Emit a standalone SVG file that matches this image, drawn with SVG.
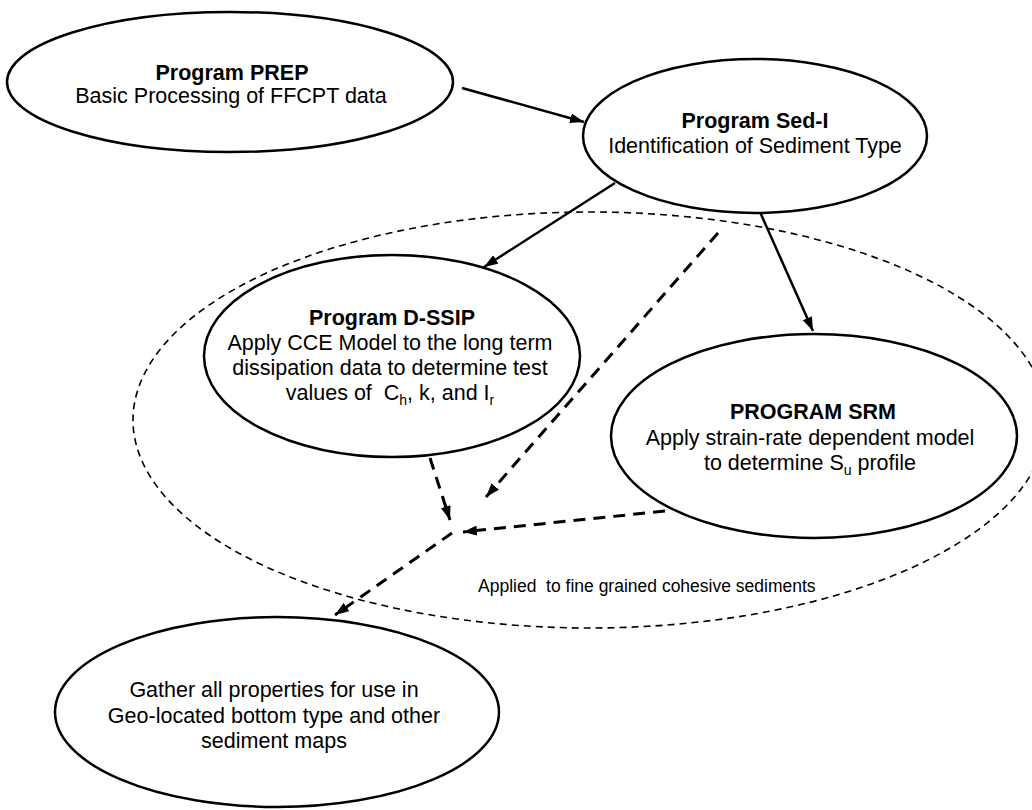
<svg xmlns="http://www.w3.org/2000/svg" width="1032" height="810" viewBox="0 0 1032 810">
<style>
  .node { fill: #fff; stroke: #000; stroke-width: 2.5; }
  .t { font-family: "Liberation Sans", Arial, sans-serif; font-size: 21.5px; fill: #000; text-anchor: middle; }
  .b { font-weight: bold; }
  .sub { font-size: 14px; }
  .solid { stroke: #000; stroke-width: 2.5; fill: none; marker-end: url(#ah); }
  .dash { stroke: #000; stroke-width: 3; fill: none; stroke-dasharray: 12 8; marker-end: url(#ah); }
  .region { fill: none; stroke: #000; stroke-width: 1.6; stroke-dasharray: 7 5; }
  .note { font-family: "Liberation Sans", Arial, sans-serif; font-size: 17.5px; fill: #000; }
</style>
<defs>
  <marker id="ah" viewBox="0 0 14 10" refX="14" refY="5" markerWidth="14" markerHeight="10" markerUnits="userSpaceOnUse" orient="auto">
    <path d="M0,0 L14,5 L0,10 z" fill="#000" stroke="none"/>
  </marker>
</defs>
<rect width="1032" height="810" fill="#fff"/>

<g id="region">
  <ellipse class="region" cx="590" cy="420" rx="457" ry="208"/>
  <text class="note" x="478" y="592" xml:space="preserve">Applied  to fine grained cohesive sediments</text>
</g>

<g id="connectors">
  <path class="solid" d="M462,88 L584,122"/>
  <path class="solid" d="M615,183 L484,267"/>
  <path class="solid" d="M760,212 L813,331"/>
  <path class="dash" d="M718,233 L486,497"/>
  <path class="dash" d="M430,458 L450,520"/>
  <path class="dash" d="M665,511 L463,532"/>
  <path class="dash" d="M452,533 L335,615"/>
</g>

<g id="prep">
  <ellipse class="node" cx="230" cy="82" rx="223" ry="70"/>
  <text class="t b" x="232" y="80">Program PREP</text>
  <text class="t" x="231" y="103">Basic Processing of FFCPT data</text>
</g>

<g id="sedi">
  <ellipse class="node" cx="755" cy="136" rx="172" ry="77"/>
  <text class="t b" x="755" y="128">Program Sed-I</text>
  <text class="t" x="755" y="153">Identification of Sediment Type</text>
</g>

<g id="dssip">
  <ellipse class="node" cx="392" cy="356" rx="188" ry="101"/>
  <text class="t b" x="392" y="325">Program D-SSIP</text>
  <text class="t" x="390" y="350">Apply CCE Model to the long term</text>
  <text class="t" x="390" y="375">dissipation data to determine test</text>
  <text class="t" x="390" y="400" xml:space="preserve">values of  C<tspan class="sub" dy="5">h</tspan><tspan dy="-5">, k, and I</tspan><tspan class="sub" dy="5">r</tspan></text>
</g>

<g id="srm">
  <ellipse class="node" cx="814" cy="436" rx="203" ry="102"/>
  <text class="t b" x="813" y="419">PROGRAM SRM</text>
  <text class="t" x="810" y="445">Apply strain-rate dependent model</text>
  <text class="t" x="810" y="470" xml:space="preserve">to determine S<tspan class="sub" dy="5">u</tspan><tspan dy="-5"> profile</tspan></text>
</g>

<g id="gather">
  <ellipse class="node" cx="277" cy="712" rx="222" ry="95"/>
  <text class="t" x="274" y="697">Gather all properties for use in</text>
  <text class="t" x="274" y="723">Geo-located bottom type and other</text>
  <text class="t" x="274" y="748">sediment maps</text>
</g>
</svg>
